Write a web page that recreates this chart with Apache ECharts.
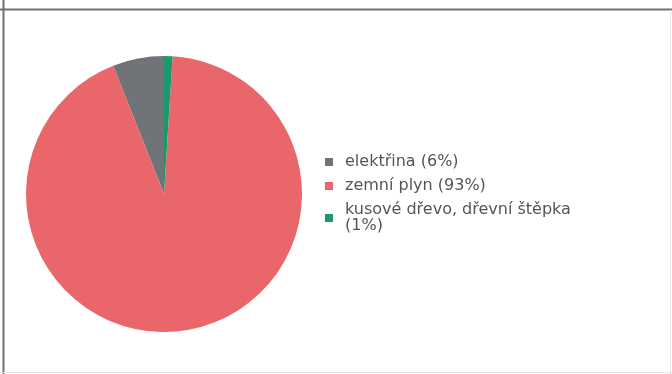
<!DOCTYPE html>
<html><head><meta charset="utf-8">
<script src="https://cdn.jsdelivr.net/npm/echarts@6/dist/echarts.min.js"></script>
<style>html,body{margin:0;padding:0;background:#fff}#c{width:672px;height:374px}</style>
</head><body><div id="c"></div>
<script>
const categories = ['elektřina', 'zemní plyn', 'kusové dřevo, dřevní štěpka'];
const shares = [6, 93, 1];
const colors = ['#707378', '#e9666a', '#1a9a6c'];

const chart = echarts.init(document.getElementById('c'), null, {renderer: 'canvas'});
chart.setOption({
  animation: false,
  color: colors,
  graphic: [
    {type: 'line', shape: {x1: 0, y1: 9.5, x2: 672, y2: 9.5}, style: {stroke: '#707070', lineWidth: 2}},
    {type: 'line', shape: {x1: 3.5, y1: 0, x2: 3.5, y2: 374}, style: {stroke: '#707070', lineWidth: 2}},
    {type: 'line', shape: {x1: 0, y1: 372.5, x2: 672, y2: 372.5}, style: {stroke: '#e4e4e4', lineWidth: 1}},
    {type: 'line', shape: {x1: 670.5, y1: 10, x2: 670.5, y2: 374}, style: {stroke: '#e4e4e4', lineWidth: 1}}
  ],
  legend: {
    orient: 'vertical',
    left: 320,
    top: 149,
    itemWidth: 8,
    itemHeight: 8,
    itemGap: 8,
    icon: 'rect',
    textStyle: {fontFamily: 'DejaVu Sans', fontSize: 16, color: '#555', lineHeight: 16, padding: [0, 0, 0, 7]},
    formatter: function (name) {
      const i = categories.indexOf(name);
      const sep = name.length > 20 ? '\n' : ' ';
      return name + sep + '(' + shares[i] + '%)';
    },
    data: categories
  },
  series: [{
    type: 'pie',
    center: [164, 194],
    radius: 138,
    startAngle: 90,
    clockwise: false,
    label: {show: false},
    labelLine: {show: false},
    itemStyle: {borderWidth: 0},
    data: categories.map((n, i) => ({name: n, value: shares[i]}))
  }]
});
</script></body></html>
